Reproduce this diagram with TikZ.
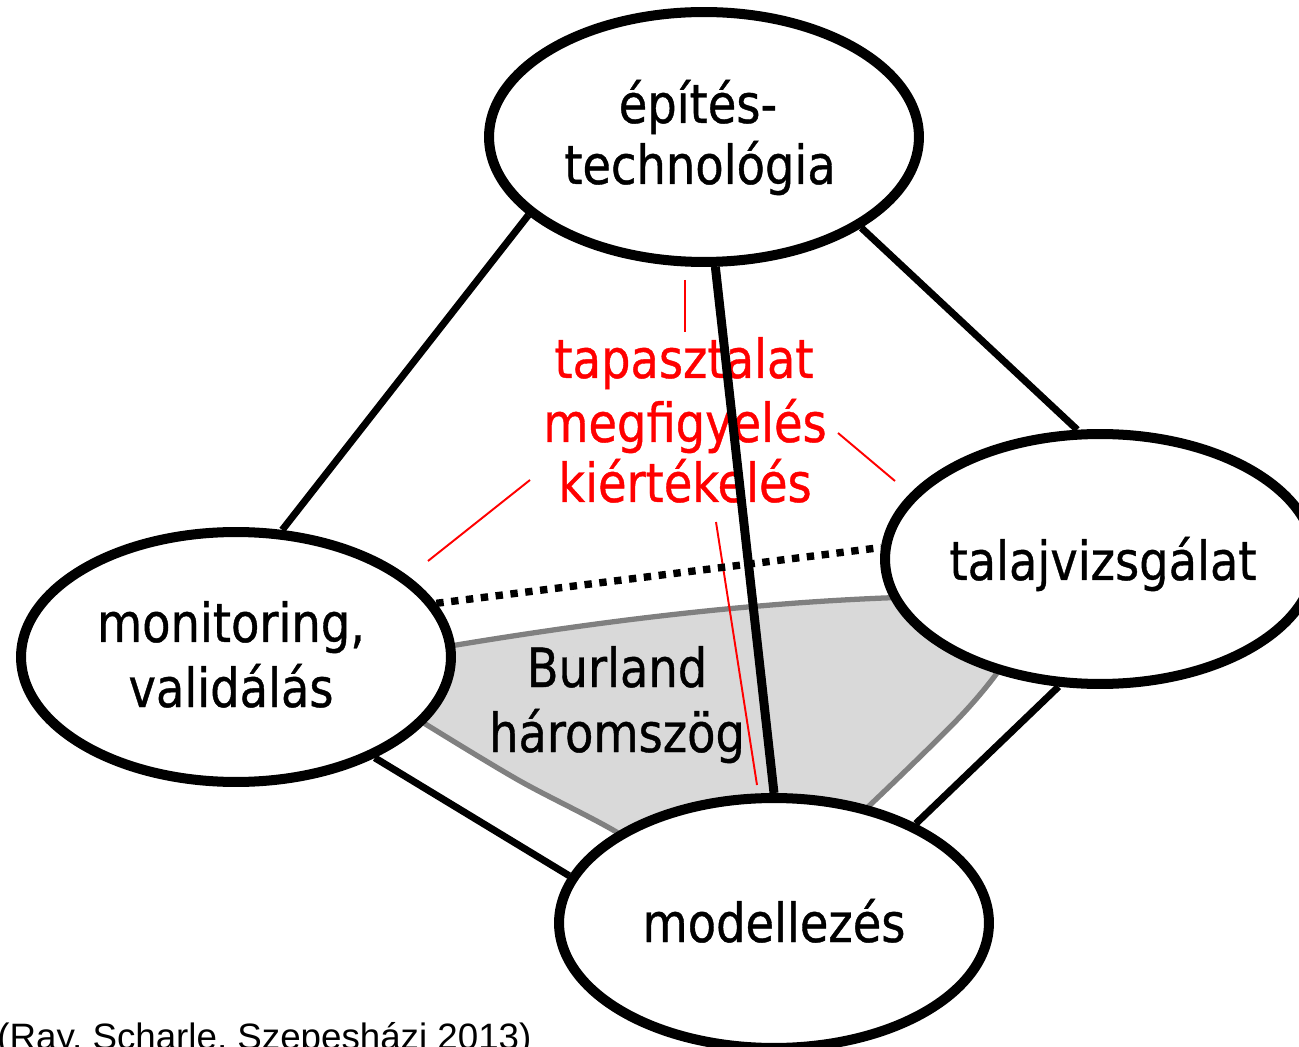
\documentclass[tikz,border=0pt]{standalone}
\usepackage{fontspec}
\newfontfamily\dvfont{DejaVu Sans}[FakeStretch=0.86,FakeBold=0.7]
\newfontfamily\libfont{Liberation Sans}
\usetikzlibrary{shapes.geometric}
\pgfdeclarelayer{bg}
\pgfsetlayers{bg,main}
\definecolor{burlandfill}{HTML}{D9D9D9}
\definecolor{burlandline}{HTML}{808080}
\begin{document}
\begin{tikzpicture}[x=0.02cm,y=-0.02cm,
  bubble/.style={ellipse, draw=black, line width=5.7pt, fill=white, minimum width=8.6cm, minimum height=5cm, inner sep=0pt},
  lbl/.style={font=\dvfont\fontsize{30.7}{36}\selectfont, inner sep=0pt, anchor=base},
  redlbl/.style={lbl, text=red},
  link/.style={line width=4pt},
  biglink/.style={line width=5.1pt},
  dotlink/.style={line width=4.2pt, dash pattern=on 4.2pt off 4.3pt},
  pointer/.style={red, line width=1.1pt},
  burland/.style={fill=burlandfill, draw=burlandline, line width=3pt}
]
\useasboundingbox (0,0) rectangle (1299,1047);
% ellipses
\node[bubble] (epit) at (704,137) {};
\node[bubble] (moni) at (236,657) {};
\node[bubble] (tala) at (1100,559) {};
\node[bubble] (mode) at (774,923) {};
% ellipse labels
\node[lbl] (epitA) at (698,123) {építés-};
\node[lbl] (epitB) at (700,184) {technológia};
\node[lbl] (moniA) at (231,642) {monitoring,};
\node[lbl] (moniB) at (231,707) {validálás};
\node[lbl] (talaA) at (1103,580) {talajvizsgálat};
\node[lbl] (modeA) at (774,942) {modellezés};
% caption
\node[font=\libfont\fontsize{20.9}{24}\selectfont, inner sep=0pt, anchor=base west] (cap) at (-3,1049) {(Ray, Scharle, Szepesházi 2013)};
% pointer ends
\coordinate (pa1) at (685,280); \coordinate (pa2) at (685,332);
\coordinate (pb1) at (838,433); \coordinate (pb2) at (895,481);
\coordinate (pc1) at (530,480); \coordinate (pc2) at (428,561);
\coordinate (pd1) at (716,522); \coordinate (pd2) at (757,785);
\begin{pgfonlayer}{bg}
  % Burland triangle
  \path[burland] (415,652) .. controls (600,620) and (780,598) .. (960,596)
    -- (1015,640)
    -- plot[smooth] coordinates {(1015,640) (997,673) (957,720) (870,805) (800,868)}
    -- (700,885)
    -- plot[smooth] coordinates {(700,885) (613,830) (520,781) (427,725) (405,710)}
    -- cycle;
  \node[lbl] (burA) at (617,687) {Burland};
  \node[lbl] (burB) at (617,752) {háromszög};
  % red text
  \node[redlbl] (redA) at (684,378) {tapasztalat};
  \node[redlbl] (redB) at (685,442) {megfigyelés};
  \node[redlbl] (redC) at (685,502) {kiértékelés};
  \draw[pointer] (pa1) -- (pa2);
  \draw[pointer] (pb1) -- (pb2);
  \draw[pointer] (pc1) -- (pc2);
  \draw[pointer] (pd1) -- (pd2);
  % connectors
  \draw[link] (epit.204) -- (moni.70);
  \draw[link] (epit.330) -- (tala.100);
  \draw[link] (moni.324) -- (mode.167);
  \draw[link] (tala.252) -- (mode.35);
  \draw[dotlink] (moni.15) -- (tala.177);
  \draw[biglink] (epit.275) -- (mode.90);
\end{pgfonlayer}
\end{tikzpicture}
\end{document}
